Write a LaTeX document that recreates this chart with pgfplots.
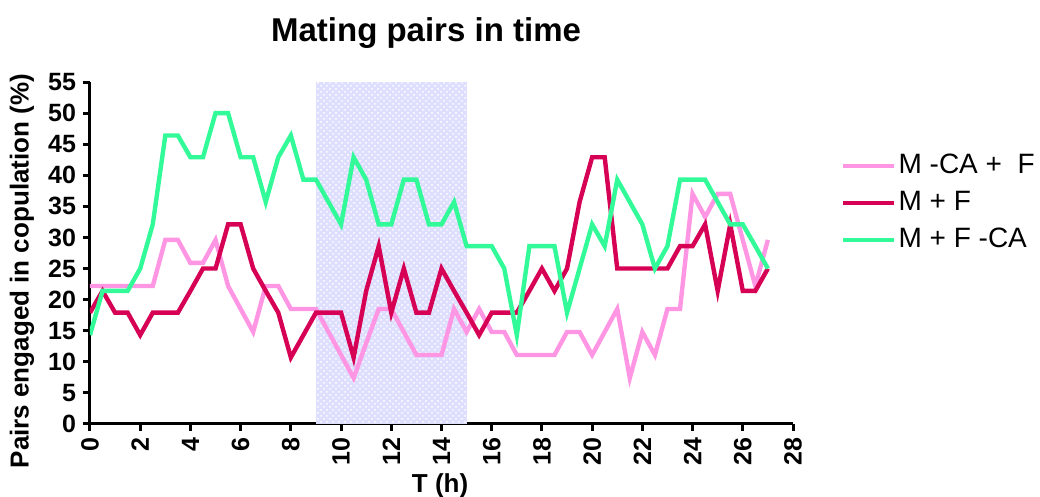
\documentclass[border=0pt]{standalone}
\usepackage{fontspec}
\setmainfont{Liberation Sans}
\usepackage{pgfplots}
\pgfplotsset{compat=1.18}
\usetikzlibrary{patterns}

\definecolor{mcaf}{RGB}{255,150,228}
\definecolor{mf}{RGB}{214,0,85}
\definecolor{mfca}{RGB}{51,250,153}
\definecolor{night}{RGB}{222,222,255}

\begin{document}
\begin{tikzpicture}
\begin{axis}[
  scale only axis,
  width=351.5pt, height=171pt,
  xmin=0, xmax=28, ymin=0, ymax=55,
  xtick={0,2,...,28}, ytick={0,5,...,55},
  axis x line=bottom, axis y line=left,
  axis line style={-, line width=1.5pt},
  tick style={black, line width=1.5pt},
  tick align=outside, major tick length=3.5pt,
  /pgf/number format/assume math mode=true,
  ticklabel style={font=\bfseries\fontsize{12.5}{14}\selectfont},
  xticklabel style={rotate=90, anchor=east},
  title={Mating pairs in time},
  title style={font=\bfseries\fontsize{16.5}{18}\selectfont,
    at={(axis description cs:0.478,1.108)}, anchor=center},
  xlabel={T (h)},
  xlabel style={font=\bfseries\fontsize{13}{15}\selectfont,
    at={(axis description cs:0.498,-0.181)}, anchor=center},
  ylabel={Pairs engaged in copulation (\%)},
  ylabel style={font=\bfseries\fontsize{13}{15}\selectfont,
    at={(axis description cs:-0.0967,0.447)}, anchor=center},
  legend style={draw=none, fill=none, inner sep=0pt,
    at={(axis description cs:1.068,0.646)}, anchor=west,
    font=\fontsize{14}{16}\selectfont,
    nodes={inner sep=0pt, text height=10pt, text depth=3pt},
    row sep=5.5pt,
    /tikz/every odd column/.append style={column sep=1pt}},
  legend cell align=left,
  legend image code/.code={\draw[#1] (0pt,0pt) -- (25.5pt,0pt);},
  every axis plot/.append style={line width=2.2pt, line join=miter},
]
% dark phase
\addplot[draw=none, fill=night, forget plot,
  postaction={pattern=crosshatch dots, pattern color=white}]
  coordinates {(9,0) (9,55) (15,55) (15,0)} -- cycle;

\addplot[mcaf] coordinates {
(0,22.2) (0.5,22.2) (1,22.2) (1.5,22.2) (2,22.2) (2.5,22.2) (3,29.6) (3.5,29.6)
(4,25.9) (4.5,25.9) (5,29.6) (5.5,22.2) (6,18.5) (6.5,14.8) (7,22.2) (7.5,22.2)
(8,18.5) (8.5,18.5) (9,18.5) (9.5,14.8) (10,11.1) (10.5,7.4) (11,13.0) (11.5,18.5)
(12,18.5) (12.5,14.8) (13,11.1) (13.5,11.1) (14,11.1) (14.5,18.5) (15,14.8) (15.5,18.5)
(16,14.8) (16.5,14.8) (17,11.1) (17.5,11.1) (18,11.1) (18.5,11.1) (19,14.8) (19.5,14.8)
(20,11.1) (20.5,14.8) (21,18.5) (21.5,7.4) (22,14.8) (22.5,11.1) (23,18.5) (23.5,18.5)
(24,37.0) (24.5,33.3) (25,37.0) (25.5,37.0) (26,29.6) (26.5,22.2) (27,29.6)};
\addlegendentry{M -CA +~ F}

\addplot[mf] coordinates {
(0,17.9) (0.5,21.4) (1,17.9) (1.5,17.9) (2,14.3) (2.5,17.9) (3,17.9) (3.5,17.9)
(4,21.4) (4.5,25) (5,25) (5.5,32.1) (6,32.1) (6.5,25) (7,21.4) (7.5,17.9)
(8,10.7) (8.5,14.3) (9,17.9) (9.5,17.9) (10,17.9) (10.5,10.7) (11,21.4) (11.5,28.6)
(12,17.9) (12.5,25) (13,17.9) (13.5,17.9) (14,25) (14.5,21.4) (15,17.9) (15.5,14.3)
(16,17.9) (16.5,17.9) (17,17.9) (17.5,21.4) (18,25) (18.5,21.4) (19,25) (19.5,35.7)
(20,42.9) (20.5,42.9) (21,25) (21.5,25) (22,25) (22.5,25) (23,25) (23.5,28.6)
(24,28.6) (24.5,32.1) (25,21.4) (25.5,32.1) (26,21.4) (26.5,21.4) (27,25)};
\addlegendentry{M + F}

\addplot[mfca] coordinates {
(0,14.3) (0.5,21.4) (1,21.4) (1.5,21.4) (2,25) (2.5,32.1) (3,46.4) (3.5,46.4)
(4,42.9) (4.5,42.9) (5,50) (5.5,50) (6,42.9) (6.5,42.9) (7,35.7) (7.5,42.9)
(8,46.4) (8.5,39.3) (9,39.3) (9.5,35.7) (10,32.1) (10.5,42.9) (11,39.3) (11.5,32.1)
(12,32.1) (12.5,39.3) (13,39.3) (13.5,32.1) (14,32.1) (14.5,35.7) (15,28.6) (15.5,28.6)
(16,28.6) (16.5,25) (17,14.3) (17.5,28.6) (18,28.6) (18.5,28.6) (19,17.9) (19.5,25)
(20,32.1) (20.5,28.6) (21,39.3) (21.5,35.7) (22,32.1) (22.5,25) (23,28.6) (23.5,39.3)
(24,39.3) (24.5,39.3) (25,35.7) (25.5,32.1) (26,32.1) (26.5,28.6) (27,25)};
\addlegendentry{M + F -CA}
\end{axis}
\pgfresetboundingbox
\useasboundingbox (-45pt,-36.5pt) rectangle (475pt,212pt);
\end{tikzpicture}
\end{document}
